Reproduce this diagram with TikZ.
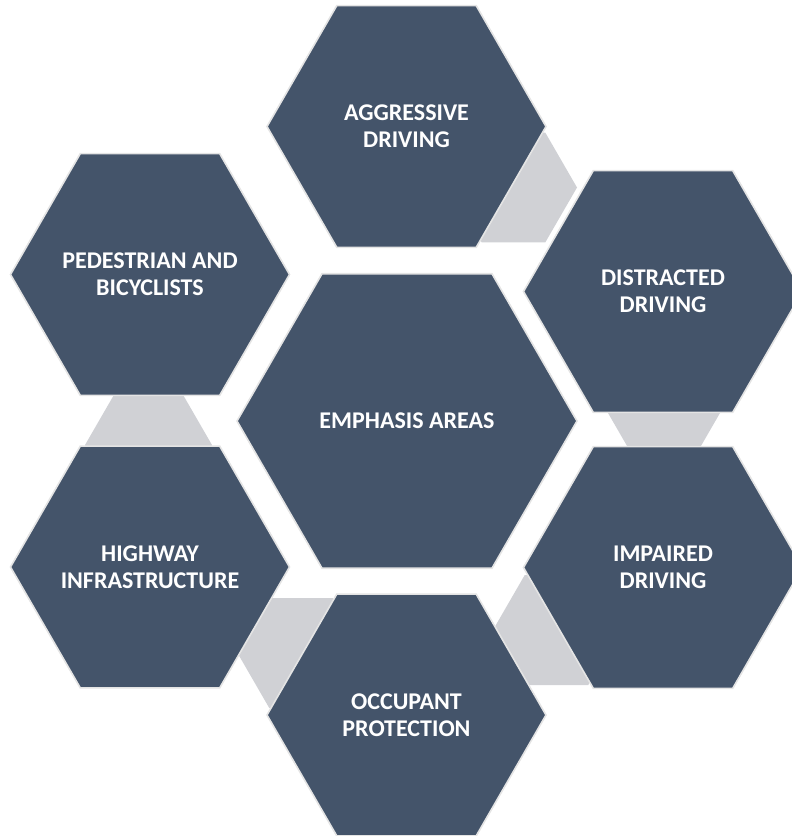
\documentclass[tikz,border=0pt]{standalone}
\usepackage{fontspec}
\setmainfont{Carlito}
\usetikzlibrary{shapes.geometric}
\definecolor{hexfill}{HTML}{44546A}
\definecolor{hexline}{HTML}{E4E4E4}
\definecolor{linkfill}{HTML}{D0D1D5}
\begin{document}
\begin{tikzpicture}[x=1pt,y=-1pt,
  hexbase/.style={shape=regular polygon,regular polygon sides=6,inner sep=0pt,outer sep=0pt},
  outerhex/.style={hexbase,minimum size=279pt,fill=hexfill,draw=hexline,line width=1.6pt},
  centerhex/.style={outerhex,minimum size=340pt},
  linkhex/.style={hexbase,minimum size=127pt,fill=linkfill,draw=none},
  hextext/.style={text=white,font=\bfseries\fontsize{24}{27}\selectfont,align=center,inner sep=0pt}]
\useasboundingbox (0,0) rectangle (792,836);
% gray links behind
\node[linkhex] (l1) at (513.5,187.5) {};
\node[linkhex] (l2) at (664,400) {};
\node[linkhex] (l3) at (556.5,630) {};
\node[linkhex] (l4) at (301,653) {};
\node[linkhex] (l5) at (148.5,445) {};
% hexagons
\node[centerhex] (ctr) at (407,421) {};
\node[outerhex] (agg) at (406.5,126.5) {};
\node[outerhex] (dis) at (663,291.5) {};
\node[outerhex] (imp) at (663,567.5) {};
\node[outerhex] (occ) at (406.5,715) {};
\node[outerhex] (hig) at (150,567) {};
\node[outerhex] (ped) at (150,274.5) {};
% labels
\node[hextext] (ctrt) at (ctr) {EMPHASIS AREAS};
\node[hextext] (aggt) at (agg) {AGGRESSIVE\\DRIVING};
\node[hextext] (dist) at (dis) {DISTRACTED\\DRIVING};
\node[hextext] (impt) at (imp) {IMPAIRED\\DRIVING};
\node[hextext] (occt) at (occ) {OCCUPANT\\PROTECTION};
\node[hextext] (higt) at (hig) {HIGHWAY\\INFRASTRUCTURE};
\node[hextext] (pedt) at (ped) {PEDESTRIAN AND\\BICYCLISTS};
\end{tikzpicture}
\end{document}
